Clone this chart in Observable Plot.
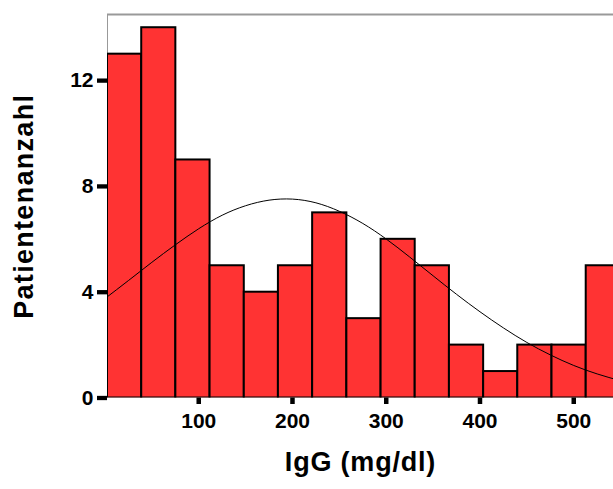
<!DOCTYPE html>
<html>
<head>
<meta charset="utf-8">
<script src="https://cdn.jsdelivr.net/npm/d3@7"></script>
<script src="https://cdn.jsdelivr.net/npm/@observablehq/plot@0.6"></script>
<style>
  html, body { margin: 0; padding: 0; background: #fff; }
  svg { font-family: "Liberation Sans", Arial, sans-serif; }
  .xtitle text { letter-spacing: 0.8px; }
  .ytitle text { letter-spacing: 1.3px; }
</style>
</head>
<body>
<div id="chart"></div>
<script>
// Histogram bins (IgG, mg/dl) and patient counts
const binStart = [2.7, 39.2, 75.6, 112.1, 148.6, 185.0, 221.5, 258.0, 294.5, 330.9, 367.4, 403.9, 440.3, 476.8, 513.3];
const binEnd   = [39.2, 75.6, 112.1, 148.6, 185.0, 221.5, 258.0, 294.5, 330.9, 367.4, 403.9, 440.3, 476.8, 513.3, 549.8];
const counts   = [13, 14, 9, 5, 4, 5, 7, 3, 6, 5, 2, 1, 2, 2, 5];

// Fitted normal curve
const curveX = [0, 25, 50, 75, 100, 125, 150, 175, 200, 225, 250, 275, 300, 325, 350, 375, 400, 425, 450, 475, 500, 525, 550];
const curveY = [3.76, 4.44, 5.13, 5.79, 6.40, 6.91, 7.27, 7.48, 7.52, 7.38, 7.06, 6.60, 6.01, 5.33, 4.62, 3.92, 3.26, 2.65, 2.10, 1.63, 1.23, 0.91, 0.65];

const xTicks = [100, 200, 300, 400, 500];
const yTicks = [0, 4, 8, 12];
const xLabel = "IgG (mg/dl)";
const yLabel = "Patientenanzahl";

const bins = counts.map((c, i) => ({x1: binStart[i], x2: binEnd[i], y: c}));
const curve = curveX.map((x, i) => ({x, y: curveY[i]}));

const xDomain = [2.7, 542.4];
const yDomain = [0, 14.5];

const chart = Plot.plot({
  width: 613,
  height: 489,
  marginLeft: 107,
  marginRight: 0,
  marginTop: 14,
  marginBottom: 91.5,
  style: {background: "#fff", fontFamily: "Liberation Sans, Arial, sans-serif"},
  x: {domain: xDomain},
  y: {domain: yDomain},
  marks: [
    Plot.ruleY([yDomain[1]], {stroke: "#999", strokeWidth: 2}),
    Plot.ruleX([xDomain[0]], {stroke: "#999", strokeWidth: 1}),
    Plot.rectY(bins, {x1: "x1", x2: "x2", y: "y", fill: "#ff3333", stroke: "#000", strokeWidth: 2, clip: true}),
    Plot.line(curve, {x: "x", y: "y", stroke: "#000", strokeWidth: 1, curve: "natural", clip: true}),
    Plot.axisX({ticks: xTicks, tickSize: 6.5, tickPadding: 9, strokeWidth: 4.5, fontSize: 21, fontWeight: "bold", fill: "#000", label: null}),
    Plot.axisY({ticks: yTicks, tickSize: 10, tickPadding: 4, strokeWidth: 4.3, fontSize: 21, fontWeight: "bold", fill: "#000", label: null}),
    Plot.text([xLabel], {frameAnchor: "bottom", dy: 72.5, fontSize: 27, fontWeight: "bold", fill: "#000", className: "xtitle"}),
    Plot.text([yLabel], {frameAnchor: "left", textAnchor: "middle", dx: -83, rotate: -90, fontSize: 27, fontWeight: "bold", fill: "#000", className: "ytitle"})
  ]
});
document.getElementById("chart").appendChild(chart);
</script>
</body>
</html>
